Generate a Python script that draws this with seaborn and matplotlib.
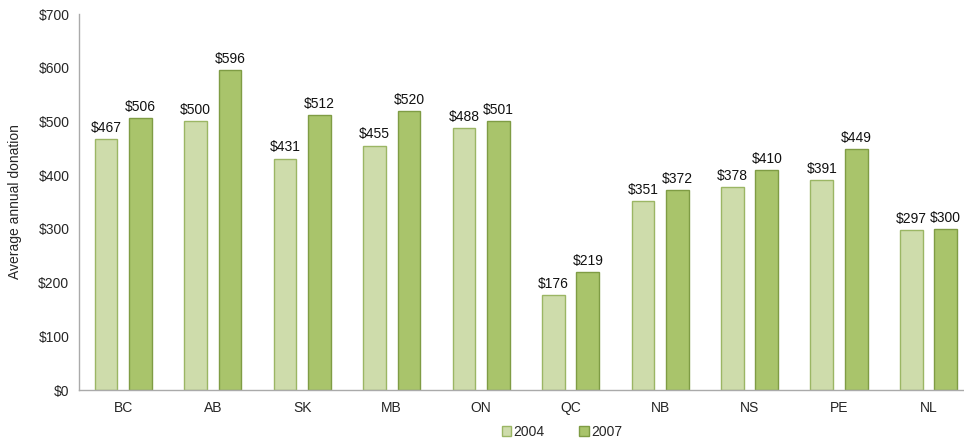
import pandas as pd
import seaborn as sns
import matplotlib.pyplot as plt
from matplotlib.patches import Patch

provinces = ["BC", "AB", "SK", "MB", "ON", "QC", "NB", "NS", "PE", "NL"]
donations_2004 = [467, 500, 431, 455, 488, 176, 351, 378, 391, 297]
donations_2007 = [506, 596, 512, 520, 501, 219, 372, 410, 449, 300]
years = ["2004", "2007"]

df = pd.DataFrame({
    "province": provinces * 2,
    "year": [years[0]] * len(provinces) + [years[1]] * len(provinces),
    "donation": donations_2004 + donations_2007,
})

sns.set_style("white")
plt.rcParams["font.family"] = ["Liberation Sans", "DejaVu Sans"]
plt.rcParams["font.size"] = 10

fills = {"2004": "#cedcab", "2007": "#a9c46b"}
edges = {"2004": "#9bb664", "2007": "#7f9c44"}

fig = plt.figure(figsize=(9.64, 4.4), dpi=100)
ax = fig.add_axes([0.082, 0.1136, 0.922, 0.8545])

sns.barplot(data=df, x="province", y="donation", hue="year", palette=fills,
            saturation=1, width=0.77, gap=0.34, legend=False, ax=ax)

for container, yr in zip(ax.containers, years):
    for bar in container:
        bar.set_edgecolor(edges[yr])
        bar.set_linewidth(1)
    ax.bar_label(container, labels=[f"${v:.0f}" for v in container.datavalues],
                 padding=3, fontsize=10, color="#111111")

ax.set_ylim(0, 700)
ax.set_xlim(-0.495, 9.44)
ax.set_yticks(range(0, 701, 100))
ax.set_yticklabels([f"${v}" for v in range(0, 701, 100)])
ax.set_xlabel("")
ax.set_ylabel("Average annual donation", fontsize=10, labelpad=12)
ax.tick_params(axis="y", length=4, color="#999999", labelsize=10, pad=3)
ax.tick_params(axis="x", length=0, labelsize=10, pad=8)

for side in ["top", "right"]:
    ax.spines[side].set_visible(False)
for side in ["left", "bottom"]:
    ax.spines[side].set_color("#aaaaaa")
    ax.spines[side].set_linewidth(1)

handles = [Patch(facecolor=fills[y], edgecolor=edges[y], label=y) for y in years]
fig.legend(handles=handles, loc="lower center", bbox_to_anchor=(0.583, -0.025),
           ncol=2, frameon=False, fontsize=10, handlelength=0.7, handleheight=0.7,
           handletextpad=0.15, columnspacing=2.5)

fig.savefig("out.png", dpi=100)
